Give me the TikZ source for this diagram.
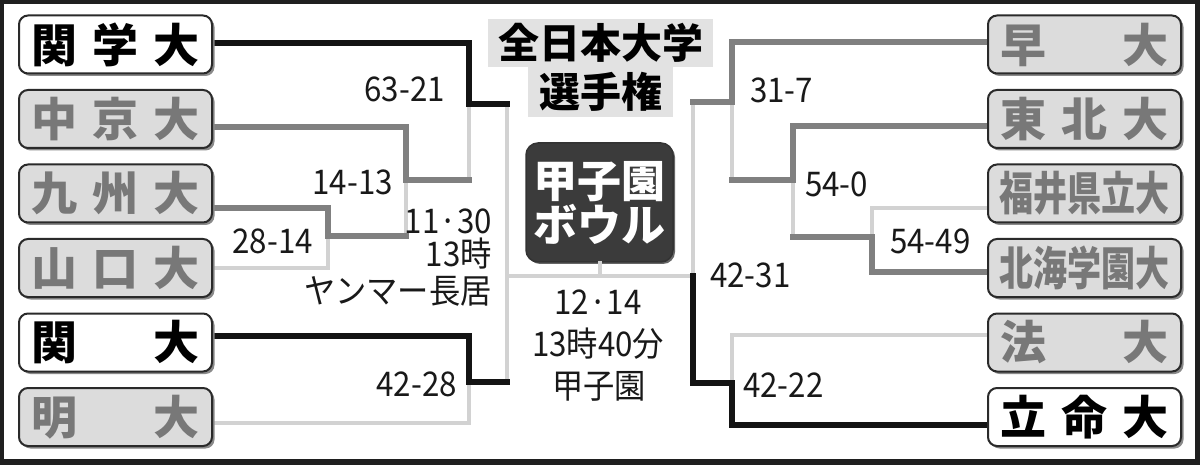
\documentclass[tikz,border=0pt]{standalone}
\usepackage{fontspec}
\usepackage{graphicx}
\newfontfamily\jp{Noto Sans CJK JP}
\definecolor{boxline}{HTML}{2A2A2A}
\definecolor{shadowc}{HTML}{8A8A8A}
\definecolor{boxgray}{HTML}{DCDCDC}
\definecolor{txtgray}{HTML}{787878}
\definecolor{midgray}{HTML}{808080}
\definecolor{lightgray}{HTML}{D2D2D2}
\definecolor{darkbox}{HTML}{3B3B3B}
\definecolor{titlebg}{HTML}{E2E2E2}
\tikzset{
  team/.style={rounded corners=9pt, draw=boxline, line width=2pt,
    minimum width=193pt, minimum height=58pt, inner sep=0pt,
    preaction={fill=shadowc, transform canvas={xshift=2.5pt,yshift=-2.5pt}}},
  alive/.style={team, fill=white, text=black, font=\jp\bfseries\fontsize{46}{46}\selectfont},
  elim/.style={team, fill=boxgray, text=txtgray, font=\jp\bfseries\fontsize{46}{46}\selectfont},
  wline/.style={draw=black!92, line width=6.5pt, line cap=rect},
  mline/.style={draw=midgray, line width=5.5pt, line cap=rect},
  lline/.style={draw=lightgray, line width=4pt, line cap=rect},
  score/.style={font=\jp\fontsize{34}{34}\selectfont, inner sep=0pt, text=black!90},
}
\newcommand{\three}[3]{\makebox[168pt][s]{#1\hfill#2\hfill#3}}
\newcommand{\two}[2]{\makebox[168pt][s]{#1\hfill#2}}
\newcommand{\five}[1]{\scalebox{0.74}[1]{#1}}
\newcommand{\sq}[1]{\scalebox{0.92}[1]{#1}}
\begin{document}
\begin{tikzpicture}[x=1pt,y=-1pt]
\useasboundingbox (0,0) rectangle (1200,465);
\fill[black!88] (0,0) rectangle (1200,465);
\fill[white] (4,4) rectangle (1195,459);

% title
\node[fill=titlebg, minimum width=225pt, minimum height=48pt, inner sep=0pt,
  font=\jp\bfseries\fontsize{41}{41}\selectfont] (t1) at (600.5,43) {全日本大学};
\node[fill=titlebg, minimum width=145pt, minimum height=50pt, inner sep=0pt,
  font=\jp\bfseries\fontsize{41}{41}\selectfont] (t2) at (600.5,92) {選手権};

% center box
\node[rounded corners=12pt, fill=darkbox, draw=black!80, line width=1.5pt,
  minimum width=147pt, minimum height=119pt, inner sep=0pt, text=white,
  align=center, font=\jp\bfseries\fontsize{44}{44}\selectfont,
  preaction={fill=black!60, transform canvas={xshift=2pt,yshift=-2pt}}]
  (kb) at (599.5,202.5) {甲子園\\ボウル};

% junction coordinates (left)
\coordinate (c1) at (469,43);  \coordinate (m1) at (469,104); \coordinate (s1) at (507,104);
\coordinate (c2) at (406,127); \coordinate (m2) at (406,180); \coordinate (c2b) at (469,180);
\coordinate (c3) at (328,208); \coordinate (m3) at (328,236); \coordinate (c3b) at (406,236);
\coordinate (c4) at (328,268);
\coordinate (c5) at (469,336); \coordinate (m5) at (469,382); \coordinate (s2) at (507,382);
\coordinate (c6) at (469,423);
\coordinate (f1) at (507,276); \coordinate (f2) at (693,276);
% right
\coordinate (r1) at (732,42);  \coordinate (rm1) at (732,102); \coordinate (rs1) at (693,102);
\coordinate (r2) at (793,126); \coordinate (rm2) at (793,180); \coordinate (r2b) at (732,180);
\coordinate (r4) at (872,272); \coordinate (rm4) at (872,237); \coordinate (r4b) at (793,237);
\coordinate (r3) at (872,208);
\coordinate (r5) at (732,335); \coordinate (rm5) at (732,383); \coordinate (rs2) at (693,383);
\coordinate (r6) at (732,425);

% lines: light
\draw[lline] (c2b) -- (m1);
\draw[lline] (c3b) -- (m2);
\draw[lline] (212,268) -- (c4) -- (m3);
\draw[lline] (212,423) -- (c6) -- (m5);
\draw[lline] (s1) -- (s2);
\draw[lline] (f1) -- (f2);
\draw[lline] (kb.south) -- (kb.south |- f1);
\draw[lline] (r2b) -- (rm1);
\draw[lline] (r4b) -- (rm2);
\draw[lline] (988,208) -- (r3) -- (rm4);
\draw[lline] (988,335) -- (r5) -- (rm5);
\draw[lline] (rs1) -- (f2);
% lines: mid
\draw[mline] (212,127) -- (c2) -- (m2) -- (c2b);
\draw[mline] (212,208) -- (c3) -- (m3) -- (c3b);
\draw[mline] (988,42) -- (r1) -- (rm1) -- (rs1);
\draw[mline] (988,126) -- (r2) -- (rm2) -- (r2b);
\draw[mline] (988,272) -- (r4) -- (rm4) -- (r4b);
% lines: winners
\draw[wline] (212,43) -- (c1) -- (m1) -- (s1);
\draw[wline] (212,336) -- (c5) -- (m5) -- (s2);
\draw[wline] (988,425) -- (r6) -- (rm5) -- (rs2) -- (f2);

% boxes
\node[alive] (kg) at (115.5,44.5) {\three{関}{学}{大}};
\node[elim]  (ck) at (115.5,119) {\three{中}{京}{大}};
\node[elim]  (ks) at (115.5,193.5) {\three{九}{州}{大}};
\node[elim]  (ym) at (115.5,268) {\three{山}{口}{大}};
\node[alive] (kd) at (115.5,342.5) {\two{関}{大}};
\node[elim]  (md) at (115.5,417) {\two{明}{大}};
\node[elim]  (ws) at (1084.5,44.5) {\two{早}{大}};
\node[elim]  (th) at (1084.5,119) {\three{東}{北}{大}};
\node[elim]  (fk) at (1084.5,193.5) {\five{福井県立大}};
\node[elim]  (hk) at (1084.5,268) {\five{北海学園大}};
\node[elim]  (hs) at (1084.5,342.5) {\two{法}{大}};
\node[alive] (rt) at (1084.5,417) {\three{立}{命}{大}};

% scores
\node[score, anchor=east] (sa) at (445,89) {\sq{63-21}};
\node[score, anchor=east] (sb) at (393,182) {\sq{14-13}};
\node[score, anchor=east] (sc) at (313,241) {\sq{28-14}};
\node[score, anchor=east] (sd) at (457,384) {\sq{42-28}};
\node[score, anchor=east] (da) at (492,221) {\sq{11·30}};
\node[score, anchor=east] (db) at (492,254) {\sq{13時}};
\node[score, anchor=east] (dc) at (492,291) {\sq{ヤンマー長居}};
\node[score, anchor=west] (se) at (750,90) {\sq{31-7}};
\node[score, anchor=west] (sf) at (805,184) {\sq{54-0}};
\node[score, anchor=west] (sg) at (890,241) {\sq{54-49}};
\node[score, anchor=west] (sh) at (710,275) {\sq{42-31}};
\node[score, anchor=west] (si) at (743,385) {\sq{42-22}};
\node[score] (fa) at (598,302) {\sq{12·14}};
\node[score] (fb) at (598,344) {\sq{13時40分}};
\node[score] (fc) at (599,386) {\sq{甲子園}};
\end{tikzpicture}
\end{document}
